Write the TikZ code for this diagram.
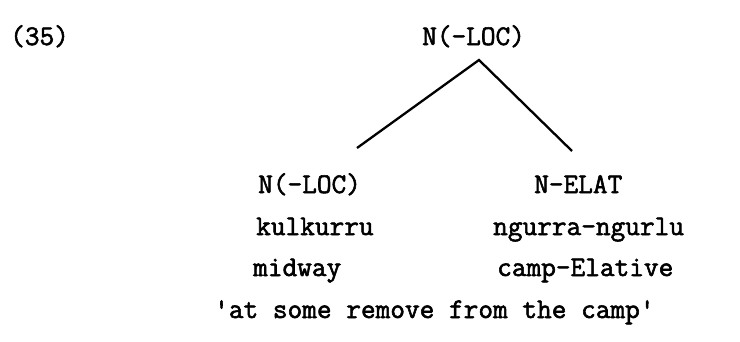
\documentclass[tikz,border=0pt]{standalone}
\usepackage{fontspec}
\setmonofont[FakeBold=2]{Latin Modern Mono}
\begin{document}
\begin{tikzpicture}[x=1pt, y=-1pt,
  every node/.style={font=\ttfamily\fontsize{28.5}{32}\selectfont, inner sep=0pt, anchor=base west}]
  \useasboundingbox (0,0) rectangle (740,341);
  % Example number
  \node (num) at (10,45) {(35)};
  % Mother node
  \node (root) at (422,45) {N(-LOC)};
  % Daughters
  \node (left) at (258,193) {N(-LOC)};
  \node (right) at (534,193) {N-ELAT};
  % Words
  \node (leftword) at (256,235) {kulkurru};
  \node (rightword) at (493,235) {ngurra-ngurlu};
  % Glosses
  \node (leftgloss) at (253,276) {midway};
  \node (rightgloss) at (497,276) {camp-Elative};
  % Translation
  \node (trans) at (214,318) {'at some remove from the camp'};
  % Branches
  \coordinate (apex) at (479,60);
  \coordinate (leftend) at (357,148);
  \coordinate (rightend) at (572,151);
  \draw[line width=2.3pt] (leftend) -- (apex) -- (rightend);
\end{tikzpicture}
\end{document}
